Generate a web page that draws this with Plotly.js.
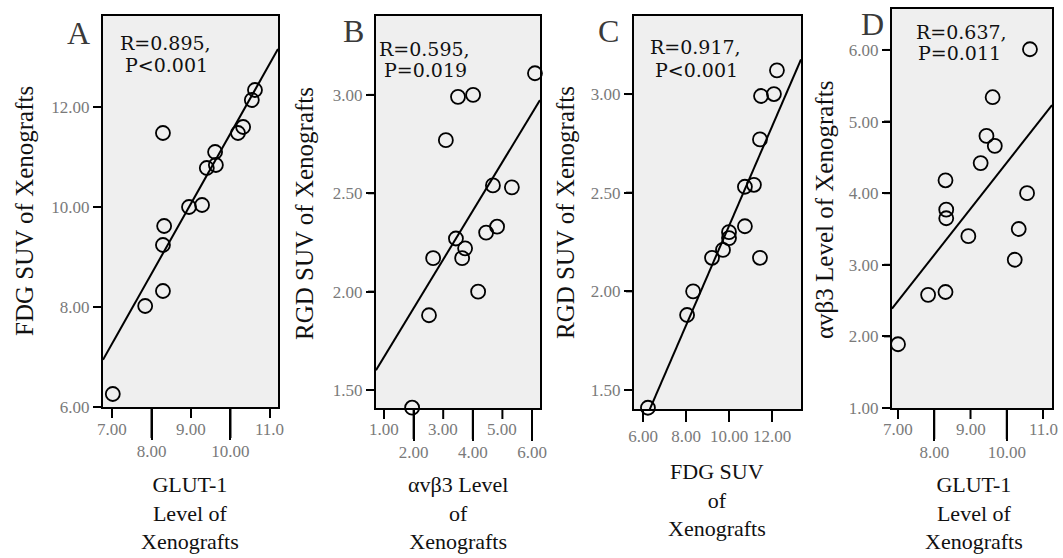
<!DOCTYPE html>
<html>
<head>
<meta charset="utf-8">
<script src="https://cdn.plot.ly/plotly-3.0.1.min.js"></script>
<style>html,body{margin:0;padding:0;background:#fff;}#chart{width:1063px;height:558px;}</style>
</head>
<body>
<div id="chart"></div>
<script>
// ---- Data ----
const glutA = [8.29,10.62,10.54,10.32,10.19,9.61,9.40,9.63,8.95,9.28,8.32,8.29,8.29,7.84,7.02];
const fdgA  = [11.48,12.34,12.14,11.60,11.48,11.10,10.78,10.84,10.00,10.04,9.62,9.24,8.32,8.02,6.26];

const avb3B = [6.10,3.50,4.01,3.09,4.68,5.32,3.43,4.45,4.82,2.66,3.74,3.64,4.18,2.52,1.95];
const rgdB  = [3.11,2.99,3.00,2.77,2.54,2.53,2.27,2.30,2.33,2.17,2.22,2.17,2.00,1.88,1.41];

const fdgC  = [12.23,11.49,12.09,11.44,10.74,11.16,10.74,11.44,10.00,10.00,9.72,9.21,8.33,8.05,6.23];
const rgdC  = [3.12,2.99,3.00,2.77,2.53,2.54,2.33,2.17,2.30,2.27,2.21,2.17,2.00,1.88,1.41];

const glutD = [10.64,9.61,9.44,9.67,9.28,8.31,10.56,8.33,8.33,8.94,10.33,10.22,8.31,7.83,7.00];
const avb3D = [6.01,5.34,4.80,4.66,4.42,4.18,4.00,3.77,3.65,3.40,3.50,3.07,2.62,2.58,1.89];

// tick values / labels
const xOddA = [7,9,11], xOddTextA = ['7.00','9.00','11.0'];
const xEvenA = [8,10], xEvenTextA = ['8.00','10.00'];
const yValsA = [6,8,10,12], yTextA = ['6.00','8.00','10.00','12.00'];

const xOddB = [1,3,5], xOddTextB = ['1.00','3.00','5.00'];
const xEvenB = [2,4,6], xEvenTextB = ['2.00','4.00','6.00'];
const yValsB = [1.5,2,2.5,3], yTextB = ['1.50','2.00','2.50','3.00'];

const xValsC = [6,8,10,12], xTextC = ['6.00','8.00','10.00','12.00'];
const yValsC = [1.5,2,2.5,3], yTextC = ['1.50','2.00','2.50','3.00'];

const xOddD = [7,9,11], xOddTextD = ['7.00','9.00','11.0'];
const xEvenD = [8,10], xEvenTextD = ['8.00','10.00'];
const yValsD = [1,2,3,4,5,6], yTextD = ['1.00','2.00','3.00','4.00','5.00','6.00'];

const stats = [['R=0.895,','P&lt;0.001'],['R=0.595,','P=0.019'],['R=0.917,','P&lt;0.001'],['R=0.637,','P=0.011']];
const letters = ['A','B','C','D'];
const yTitles = ['FDG SUV of Xenografts','RGD SUV of Xenografts','RGD SUV of Xenografts','\u03b1v\u03b23 Level of Xenografts'];
const xTitles = [['GLUT-1','Level of','Xenografts'],['\u03b1v\u03b23 Level','of','Xenografts'],['FDG SUV','of','Xenografts'],['GLUT-1','Level of','Xenografts']];

// ---- Layout helpers ----
const W = 1063, H = 558;
const fx = v => v / W;
const fy = v => 1 - v / H;

function ols(xs, ys) {
  const n = xs.length;
  const mx = xs.reduce((a,b)=>a+b,0)/n, my = ys.reduce((a,b)=>a+b,0)/n;
  let sxy = 0, sxx = 0;
  for (let i=0;i<n;i++){ sxy += (xs[i]-mx)*(ys[i]-my); sxx += (xs[i]-mx)*(xs[i]-mx); }
  const b = sxy/sxx; return {b, a: my - b*mx};
}

const SERIF = 'Liberation Serif, Times New Roman, serif';
const tickFont = {family: SERIF, size: 17, color: '#7a7a7a'};
const SHORT = 11, LONG = 31, YTICK = 8;

const panels = [
  {xs: glutA, ys: fdgA, box:[103,278,16,407], xr:[6.772,11.203], yr:[6,13.82],
   odd:[xOddA,xOddTextA], even:[xEvenA,xEvenTextA], yt:[yValsA,yTextA],
   letter:[78,33], s1:[118,43], s2:[123,65], ytitle:[25,211], xt:[190,513]},
  {xs: avb3B, ys: rgdB, box:[376,540,16,408], xr:[0.73,6.27], yr:[1.4085,3.401],
   odd:[xOddB,xOddTextB], even:[xEvenB,xEvenTextB], yt:[yValsB,yTextB],
   letter:[353,31], s1:[377,49], s2:[382,70], ytitle:[305,214], xt:[458,513]},
  {xs: fdgC, ys: rgdC, box:[634,801,16,409], xr:[5.581,13.349], yr:[1.4037,3.3955],
   odd:[xValsC,xTextC], even:null, yt:[yValsC,yTextC],
   letter:[608,31], s1:[648,47], s2:[653,70], ytitle:[565,213], xt:[717,500]},
  {xs: glutD, ys: avb3D, box:[892,1052,9,408], xr:[6.834,11.248], yr:[1.0,6.572],
   odd:[xOddD,xOddTextD], even:[xEvenD,xEvenTextD], yt:[yValsD,yTextD],
   letter:[872,24], s1:[914,32], s2:[916,53], ytitle:[824,210], xt:[974,513]}
];

const data = [];
const layout = {
  width: W, height: H, margin: {l:0,r:0,t:0,b:0},
  paper_bgcolor: '#ffffff', plot_bgcolor: '#efefef',
  showlegend: false, annotations: [], shapes: []
};

panels.forEach((p, i) => {
  const n = i + 1;
  const xk = n === 1 ? 'xaxis' : 'xaxis' + n;
  const yk = n === 1 ? 'yaxis' : 'yaxis' + n;
  const xid = n === 1 ? 'x' : 'x' + n;
  const yid = n === 1 ? 'y' : 'y' + n;
  const A = layout.annotations, S = layout.shapes;

  // tick marks drawn explicitly at the axis tick values (through the axis scale)
  const xTick = (v, len) => S.push({type:'line', layer:'above', xref: xid, yref:'paper',
      x0: v, x1: v, y0: fy(p.box[3]), y1: fy(p.box[3] + len), line:{color:'#000', width:2}});
  const yTick = (v) => S.push({type:'line', layer:'above', xref:'paper', yref: yid,
      x0: fx(p.box[0] - YTICK), x1: fx(p.box[0]), y0: v, y1: v, line:{color:'#000', width:2}});

  const base = {
    domain: [fx(p.box[0]), fx(p.box[1])], range: p.xr, anchor: yid,
    tickmode: 'array', ticks: 'outside', tickwidth: 2, tickcolor: '#000',
    showline: true, linewidth: 2, linecolor: '#000', mirror: true,
    showgrid: false, zeroline: false, tickfont: tickFont, tickangle: 0, fixedrange: true
  };
  if (p.even) {
    // SPSS-style staggered axis: long ticks + lower labels at even values,
    // short ticks at odd values with their labels on the upper row
    layout[xk] = Object.assign({}, base, {
      tickvals: p.even[0], ticktext: p.even[1], ticklen: LONG, ticklabelstandoff: -3
    });
    p.even[0].forEach(v => xTick(v, LONG));
    p.odd[0].forEach((v, k) => {
      xTick(v, SHORT);
      A.push({xref: xid, yref: 'paper', x: v, y: fy(p.box[3] + 22), text: p.odd[1][k],
              showarrow: false, xanchor: 'center', yanchor: 'middle', font: tickFont});
    });
  } else {
    layout[xk] = Object.assign({}, base, {tickvals: p.odd[0], ticktext: p.odd[1], ticklen: SHORT});
    p.odd[0].forEach(v => xTick(v, SHORT));
  }
  layout[yk] = {
    domain: [fy(p.box[3]), fy(p.box[2])], range: p.yr, anchor: xid,
    tickmode: 'array', tickvals: p.yt[0], ticktext: p.yt[1],
    ticks: 'outside', ticklen: YTICK, tickwidth: 2, tickcolor: '#000',
    showline: true, linewidth: 2, linecolor: '#000', mirror: true,
    showgrid: false, zeroline: false, tickfont: tickFont, fixedrange: true
  };
  p.yt[0].forEach(v => yTick(v));

  const fit = ols(p.xs, p.ys);
  data.push({
    type: 'scatter', mode: 'lines', x: p.xr, y: p.xr.map(v => fit.a + fit.b * v),
    xaxis: xid, yaxis: yid, hoverinfo: 'skip',
    line: {color: '#000', width: 2}
  });
  data.push({
    type: 'scatter', mode: 'markers', x: p.xs, y: p.ys, xaxis: xid, yaxis: yid,
    cliponaxis: false, hoverinfo: 'skip',
    marker: {symbol: 'circle-open', size: 14, color: '#000', line: {width: 1.8, color: '#000'}}
  });

  A.push({xref:'paper', yref:'paper', x: fx(p.letter[0]), y: fy(p.letter[1]), text: letters[i],
          showarrow:false, xanchor:'center', yanchor:'middle', font:{family:SERIF, size:32, color:'#3a3a3a'}});
  A.push({xref:'paper', yref:'paper', x: fx(p.s1[0]), y: fy(p.s1[1]), text: stats[i][0],
          showarrow:false, xanchor:'left', yanchor:'middle', font:{family:'DejaVu Serif, serif', size:19, color:'#111'}});
  A.push({xref:'paper', yref:'paper', x: fx(p.s2[0]), y: fy(p.s2[1]), text: stats[i][1],
          showarrow:false, xanchor:'left', yanchor:'middle', font:{family:'DejaVu Serif, serif', size:19, color:'#111'}});
  A.push({xref:'paper', yref:'paper', x: fx(p.ytitle[0]), y: fy(p.ytitle[1]), text: yTitles[i],
          textangle: -90, showarrow:false, xanchor:'center', yanchor:'middle', font:{family:SERIF, size:25, color:'#111'}});
  A.push({xref:'paper', yref:'paper', x: fx(p.xt[0]), y: fy(p.xt[1]), text: xTitles[i].join('<br>'),
          showarrow:false, xanchor:'center', yanchor:'middle', align:'center', font:{family:SERIF, size:22, color:'#111'}});
});

Plotly.newPlot('chart', data, layout, {staticPlot: true, displayModeBar: false});
</script>
</body>
</html>
